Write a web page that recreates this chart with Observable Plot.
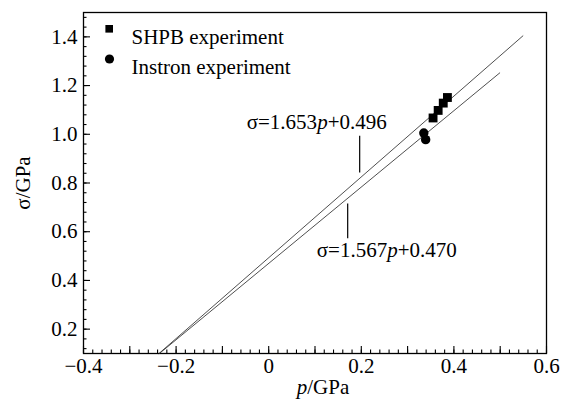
<!DOCTYPE html>
<html>
<head>
<meta charset="utf-8">
<script src="https://cdn.jsdelivr.net/npm/d3@7"></script>
<script src="https://cdn.jsdelivr.net/npm/@observablehq/plot@0.6"></script>
<style>
  html, body { margin: 0; padding: 0; background: #fff; }
  #chart { width: 570px; height: 405px; }
  #chart svg, #chart svg text { font-family: "Liberation Serif", "Times New Roman", serif !important; }
</style>
</head>
<body>
<div id="chart"></div>
<script>
// ---- data ----
const shpbP = [0.355, 0.366, 0.377, 0.386];
const shpbS = [1.067, 1.098, 1.128, 1.151];
const instronP = [0.335, 0.339];
const instronS = [1.005, 0.978];

// fitted lines (end points)
const fit1P = [-0.237, 0.549];
const fit1S = [0.100, 1.404];
const fit2P = [-0.236, 0.499];
const fit2S = [0.100, 1.252];

// annotations
const annText = ["σ=1.653p+0.496", "σ=1.567p+0.470"];
const annP = [-0.0475, 0.1037];
const annS = [1.048, 0.525];
const leaderP = [0.1965, 0.1706];
const leaderS1 = [0.992, 0.714];
const leaderS2 = [0.841, 0.571];

// axis ticks
const xTickLabels = [-0.4, -0.2, 0, 0.2, 0.4, 0.6];
const yTickLabels = [0.2, 0.4, 0.6, 0.8, 1.0, 1.2, 1.4];
const legendLabels = ["SHPB experiment", "Instron experiment"];

const round = v => Math.round(v * 1000) / 1000;
const xMinor = d3.range(0, 51).map(i => round(-0.4 + i * 0.02));
const xMajor = d3.range(0, 11).map(i => round(-0.4 + i * 0.1));
const yMinor = d3.range(0, 35).map(i => round(0.12 + i * 0.04));

const shpb = shpbP.map((p, i) => ({p, s: shpbS[i]}));
const instron = instronP.map((p, i) => ({p, s: instronS[i]}));
const fit1 = fit1P.map((p, i) => ({p, s: fit1S[i]}));
const fit2 = fit2P.map((p, i) => ({p, s: fit2S[i]}));
const ann = annText.map((t, i) => ({t, p: annP[i], s: annS[i]}));
const leaders = leaderP.map((p, i) => ({p, s1: leaderS1[i], s2: leaderS2[i]}));

const fmt = d3.format(".1f");
const FONT = '"Liberation Serif", "Times New Roman", serif';

const chart = Plot.plot({
  width: 570,
  height: 405,
  marginLeft: 83,
  marginRight: 24,
  marginTop: 12,
  marginBottom: 52,
  style: {fontFamily: FONT, fontSize: "21px", background: "#fff", color: "#000"},
  x: {domain: [-0.4, 0.6]},
  y: {domain: [0.1, 1.5]},
  marks: [
    Plot.frame({stroke: "#000", strokeWidth: 1.3}),
    // inward ticks
    Plot.axisX(xMinor, {tickSize: -3.5, fill: "none", strokeWidth: 1.1}),
    Plot.axisX(xMajor, {tickSize: -7, fill: "none", strokeWidth: 1.1}),
    Plot.axisY(yMinor, {tickSize: -3.5, fill: "none", strokeWidth: 1.1}),
    Plot.axisY(yTickLabels, {tickSize: -7, fill: "none", strokeWidth: 1.1}),
    // tick labels
    Plot.axisX(xTickLabels, {tickSize: 0, tickPadding: 5, tickFormat: d => d === 0 ? "0" : fmt(d), label: null}),
    Plot.axisY(yTickLabels, {tickSize: 0, tickPadding: 6, tickFormat: fmt, label: null}),
    // axis titles
    Plot.text(["p/GPa"], {frameAnchor: "bottom", dx: 8, dy: 40, textAnchor: "middle"}),
    Plot.text(["σ/GPa"], {frameAnchor: "left", dx: -60, rotate: -90, textAnchor: "middle"}),
    // fitted lines
    Plot.line(fit1, {x: "p", y: "s", stroke: "#222", strokeWidth: 0.8}),
    Plot.line(fit2, {x: "p", y: "s", stroke: "#222", strokeWidth: 0.8}),
    // data
    Plot.dot(shpb, {x: "p", y: "s", symbol: "square", r: 5, fill: "#000", stroke: "none"}),
    Plot.dot(instron, {x: "p", y: "s", symbol: "circle", r: 4.7, fill: "#000", stroke: "none"}),
    // annotations
    Plot.ruleX(leaders, {x: "p", y1: "s1", y2: "s2", stroke: "#000", strokeWidth: 1.2}),
    Plot.text(ann, {x: "p", y: "s", text: "t", textAnchor: "start"}),
    // legend
    Plot.dot([legendLabels[0]], {frameAnchor: "top-left", dx: 25.7, dy: 16.3, symbol: "square", r: 4.3, fill: "#000", stroke: "none"}),
    Plot.dot([legendLabels[1]], {frameAnchor: "top-left", dx: 26, dy: 46.5, symbol: "circle", r: 4.6, fill: "#000", stroke: "none"}),
    Plot.text([legendLabels[0]], {frameAnchor: "top-left", dx: 48, dy: 16.3, textAnchor: "start"}),
    Plot.text([legendLabels[1]], {frameAnchor: "top-left", dx: 48, dy: 46.3, textAnchor: "start"})
  ]
});

// italic "p" in equations and axis title
chart.querySelectorAll("text").forEach(t => {
  if (t.querySelector("tspan")) return;
  const s = t.textContent;
  const m = s.match(/^(σ=[\d.]+|)p(.*)$/);
  if (!m) return;
  while (t.firstChild) t.removeChild(t.firstChild);
  if (m[1]) t.appendChild(document.createTextNode(m[1]));
  const it = document.createElementNS("http://www.w3.org/2000/svg", "tspan");
  it.setAttribute("font-style", "italic");
  it.textContent = "p";
  t.appendChild(it);
  t.appendChild(document.createTextNode(m[2]));
});

document.getElementById("chart").appendChild(chart);
</script>
</body>
</html>
